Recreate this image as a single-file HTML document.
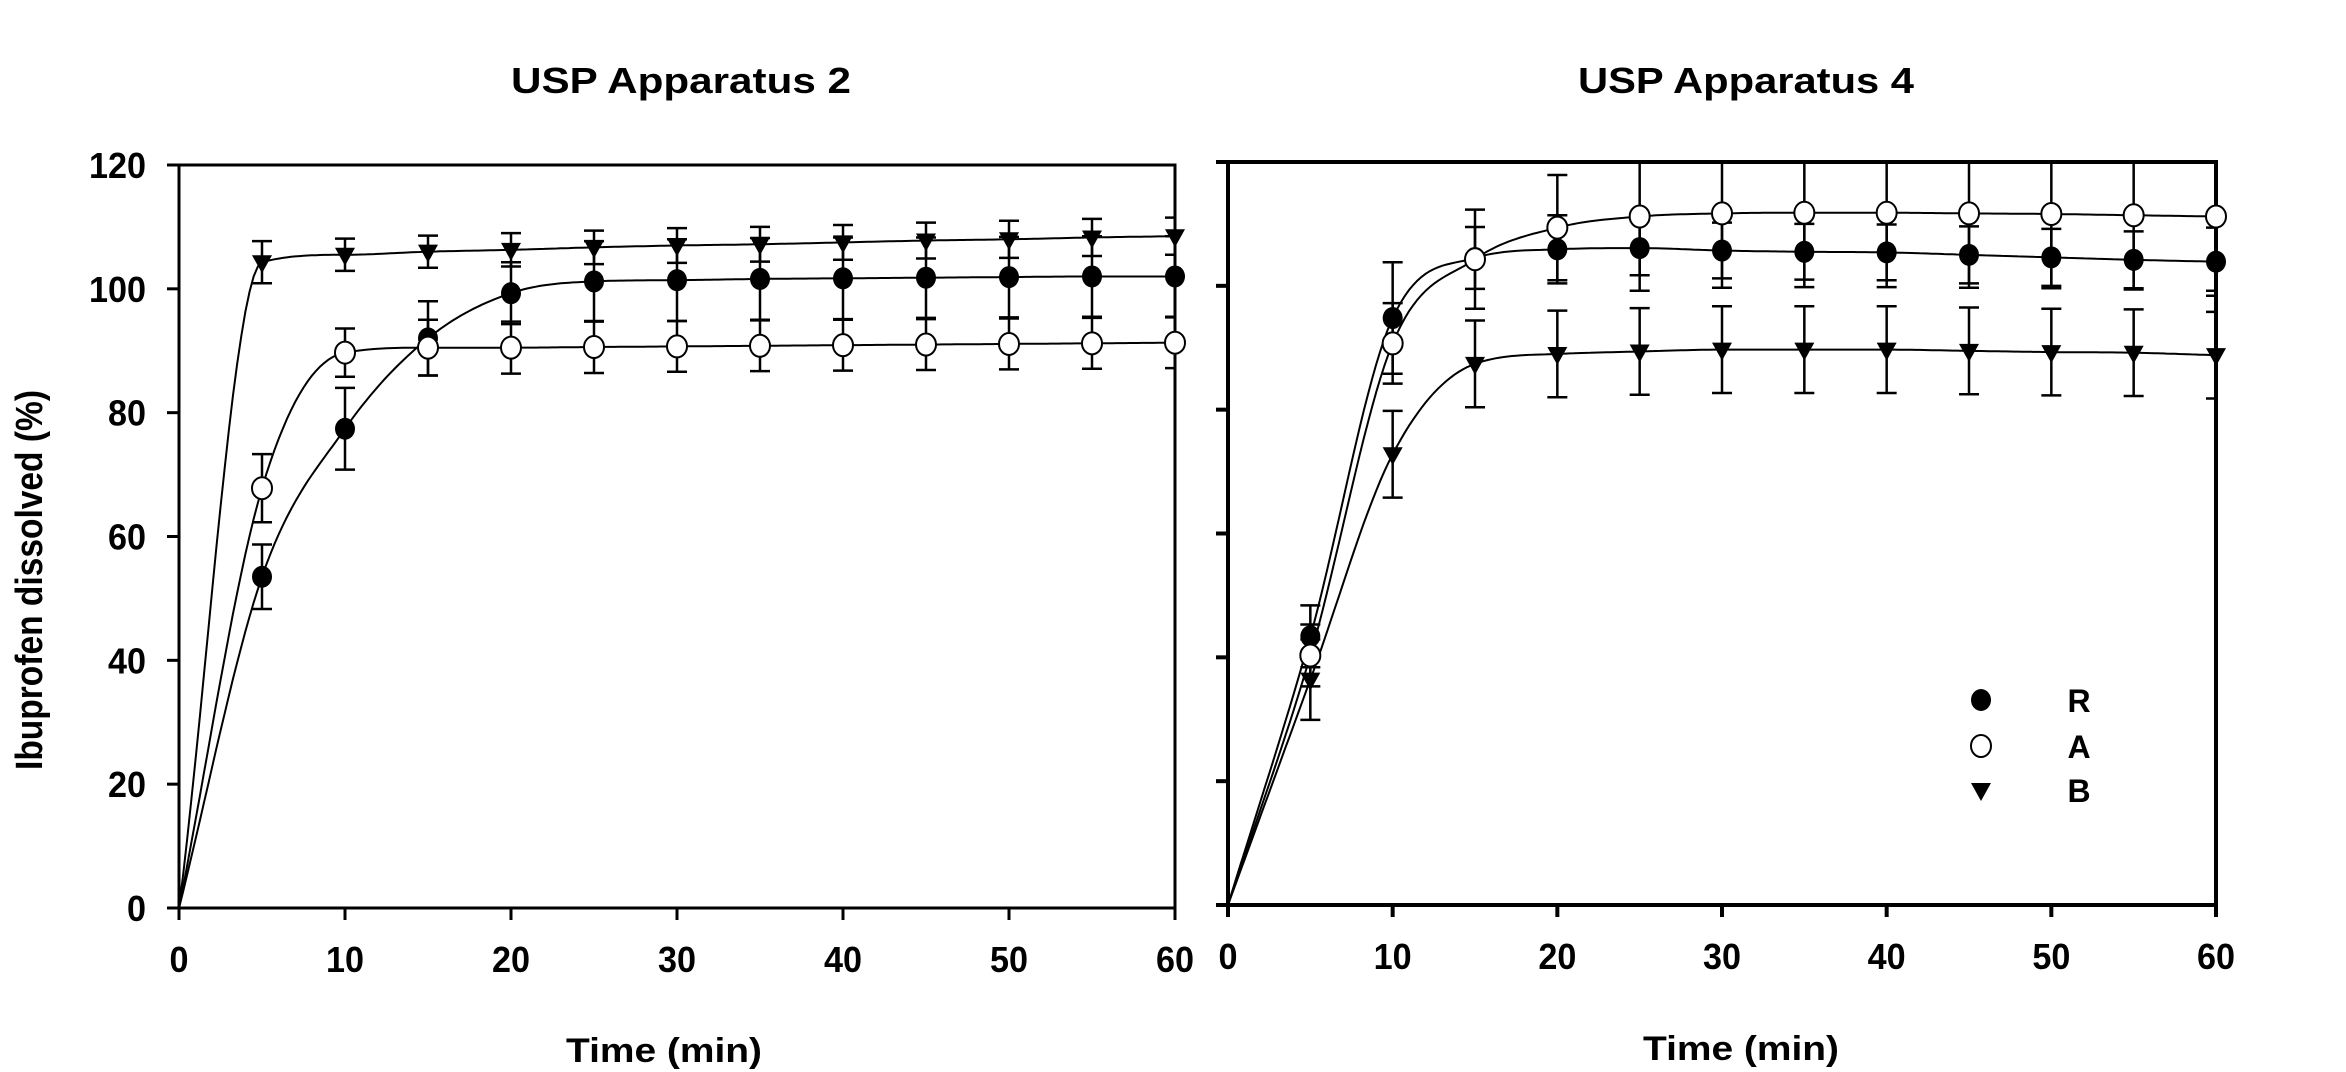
<!DOCTYPE html>
<html><head><meta charset="utf-8"><style>
html,body{margin:0;padding:0;background:#fff;}
svg{display:block;}
text{font-family:"Liberation Sans",Arial,sans-serif;font-weight:bold;fill:#000;}
</style></head><body>
<svg id="chart" width="2346" height="1072" viewBox="0 0 2346 1072" xmlns="http://www.w3.org/2000/svg">
<defs>
<clipPath id="clipL"><rect x="179" y="165" width="996" height="743"/></clipPath>
<clipPath id="clipR"><rect x="1228" y="162" width="988" height="743"/></clipPath>
</defs>
<text x="681" y="93" font-size="36" text-anchor="middle" textLength="340" lengthAdjust="spacingAndGlyphs">USP Apparatus 2</text>
<text x="1746" y="93" font-size="36" text-anchor="middle" textLength="336" lengthAdjust="spacingAndGlyphs">USP Apparatus 4</text>
<text transform="translate(42,580) rotate(-90)" font-size="38" text-anchor="middle" textLength="380" lengthAdjust="spacingAndGlyphs">Ibuprofen  dissolved  (%)</text>
<text x="664" y="1062" font-size="34" text-anchor="middle" textLength="196" lengthAdjust="spacingAndGlyphs">Time  (min)</text>
<text x="1741" y="1060" font-size="34" text-anchor="middle" textLength="196" lengthAdjust="spacingAndGlyphs">Time  (min)</text>
<g id="left"></g>
<g id="right"></g>
<g id="legend"></g>
</svg>
<script>
const times = [5,10,15,20,25,30,35,40,45,50,55,60];
const xTicks = [0,10,20,30,40,50,60];
const yTicks = [0,20,40,60,80,100,120];
const seriesNames = ['R','A','B'];
// Apparatus 2
const app2R = [53.5,77.4,92,99.3,101.2,101.4,101.6,101.7,101.8,101.9,102,102];
const app2A = [67.8,89.7,90.5,90.5,90.6,90.7,90.8,90.9,91,91.1,91.2,91.3];
const app2B = [104.3,105.5,106,106.3,106.7,107,107.2,107.5,107.8,108,108.3,108.5];
const app2Rsd = [5.2,6.6,6,5,6.5,6.6,6.6,6.6,6.5,6.5,6.5,6.5];
const app2Asd = [5.5,3.9,4.5,4.2,4.2,4.1,4.1,4.1,4.1,4.1,4.1,4.1];
const app2Bsd = [3.4,2.6,2.6,2.7,2.7,2.8,2.8,2.8,2.9,3,3,3];
// Apparatus 4
const app4R = [43.4,94.8,104.5,105.9,106.1,105.7,105.5,105.4,105,104.6,104.2,103.9];
const app4A = [40.3,90.7,104.3,109.4,111.2,111.7,111.8,111.8,111.7,111.6,111.4,111.2];
const app4B = [36.4,72.8,87.4,89,89.4,89.7,89.7,89.7,89.5,89.3,89.2,88.8];
const app4Rsd = [5,9,5,5.5,4.4,4.5,4.5,4.5,4.6,4.6,4.6,5.5];
const app4Asd = [5,6.5,8,8.5,12,12,12,12,12,12,12,12];
const app4Bsd = [6.5,7,7,7,7,7,7,7,7,7,7,7];

const NS='http://www.w3.org/2000/svg';
function mk(tag, attrs, parent){const e=document.createElementNS(NS,tag);for(const k in attrs)e.setAttribute(k,attrs[k]);parent.appendChild(e);return e;}

function monotone(xs, ys){
  const n=xs.length, d=[], m=new Array(n);
  for(let i=0;i<n-1;i++) d.push((ys[i+1]-ys[i])/(xs[i+1]-xs[i]));
  m[0]=d[0]; m[n-1]=d[n-2];
  for(let i=1;i<n-1;i++){ m[i]=(d[i-1]*d[i]<=0)?0:(d[i-1]+d[i])/2; }
  for(let i=0;i<n-1;i++){ if(d[i]===0){m[i]=0;m[i+1]=0;continue;} const a=m[i]/d[i], b=m[i+1]/d[i], s=a*a+b*b; if(s>9){const t=3/Math.sqrt(s); m[i]=t*a*d[i]; m[i+1]=t*b*d[i];} }
  return function(x){ let i=0; while(i<n-2 && x>xs[i+1]) i++; const h=xs[i+1]-xs[i], t=(x-xs[i])/h, t2=t*t, t3=t2*t;
    return (2*t3-3*t2+1)*ys[i]+(t3-2*t2+t)*h*m[i]+(-2*t3+3*t2)*ys[i+1]+(t3-t2)*h*m[i+1]; };
}

function panel(g, X0, X1, Y0, Y1, clipId, showYLabels, series, sds, frameW){
  const sx=v=>X0+(v/60)*(X1-X0);
  const sy=v=>Y0-(v/120)*(Y0-Y1);
  // frame
  const fr=mk('rect',{x:X0,y:Y1,width:X1-X0,height:Y0-Y1,fill:'none',stroke:'#000','stroke-width':frameW},g);
  
  
  xTicks.forEach(t=>{
    const l=mk('line',{x1:sx(t),x2:sx(t),y1:Y0,y2:Y0+12,stroke:'#000','stroke-width':frameW},g);
    
    
    const tx=mk('text',{x:sx(t),y:Y0+64,'font-size':36,'text-anchor':'middle',textLength:String(t).length*19,lengthAdjust:'spacingAndGlyphs'},g);
    tx.textContent=t;
    
    
  });
  yTicks.forEach(t=>{
    const l=mk('line',{x1:X0-12,x2:X0,y1:sy(t),y2:sy(t),stroke:'#000','stroke-width':frameW},g);
    
    
    if(showYLabels){
      const tx=mk('text',{x:X0-33,y:sy(t)+13,'font-size':36,'text-anchor':'end',textLength:String(t).length*19,lengthAdjust:'spacingAndGlyphs'},g);
      tx.textContent=t;
      
      
    }
  });
  const cg=mk('g',{'clip-path':'url(#'+clipId+')'},g);
  series.forEach((vals,si)=>{
    const xs=[0].concat(times), ys=[0].concat(vals);
    const f=monotone(xs,ys);
    let d='';
    for(let x=0;x<=60.001;x+=0.25){ d+=(x===0?'M':'L')+sx(x).toFixed(1)+','+sy(f(x)).toFixed(1); }
    const p=mk('path',{d:d,fill:'none',stroke:'#000','stroke-width':2},cg);
    
    
  });
  series.forEach((vals,si)=>{
    vals.forEach((v,i)=>{
      const x=sx(times[i]), s=sds[si][i];
      const eb=mk('path',{d:`M${x},${sy(v+s)}L${x},${sy(v-s)}M${x-10},${sy(v+s)}L${x+10},${sy(v+s)}M${x-10},${sy(v-s)}L${x+10},${sy(v-s)}`,stroke:'#000','stroke-width':2.5,fill:'none'},cg);
      
      
    });
  });
  series.forEach((vals,si)=>{
    vals.forEach((v,i)=>{
      const x=sx(times[i]), y=sy(v);
      const m=marker(si,x,y,g);
      
      
    });
  });
}
function marker(si,x,y,parent){
  if(si===0) return mk('ellipse',{cx:x,cy:y,rx:10,ry:11,fill:'#000'},parent);
  if(si===1) return mk('ellipse',{cx:x,cy:y,rx:10,ry:11,fill:'#fff',stroke:'#000','stroke-width':2},parent);
  return mk('path',{d:`M${x-10},${y-7}L${x+10},${y-7}L${x},${y+11}Z`,fill:'#000'},parent);
}
const L=document.getElementById('left');


panel(L,179,1175,908,165,'clipL',true,[app2R,app2A,app2B],[app2Rsd,app2Asd,app2Bsd],3);
const R=document.getElementById('right');


panel(R,1228,2216,905,162,'clipR',false,[app4R,app4A,app4B],[app4Rsd,app4Asd,app4Bsd],4);
const LG=document.getElementById('legend');
const legY=[700,746,790];
seriesNames.forEach((n,i)=>{
  const m=marker(i,1981,legY[i],LG);
  
  
  const t=mk('text',{x:2079,y:legY[i]+12,'font-size':32,'text-anchor':'middle'},LG);
  t.textContent=n;
  
  
});
</script>
</body></html>
